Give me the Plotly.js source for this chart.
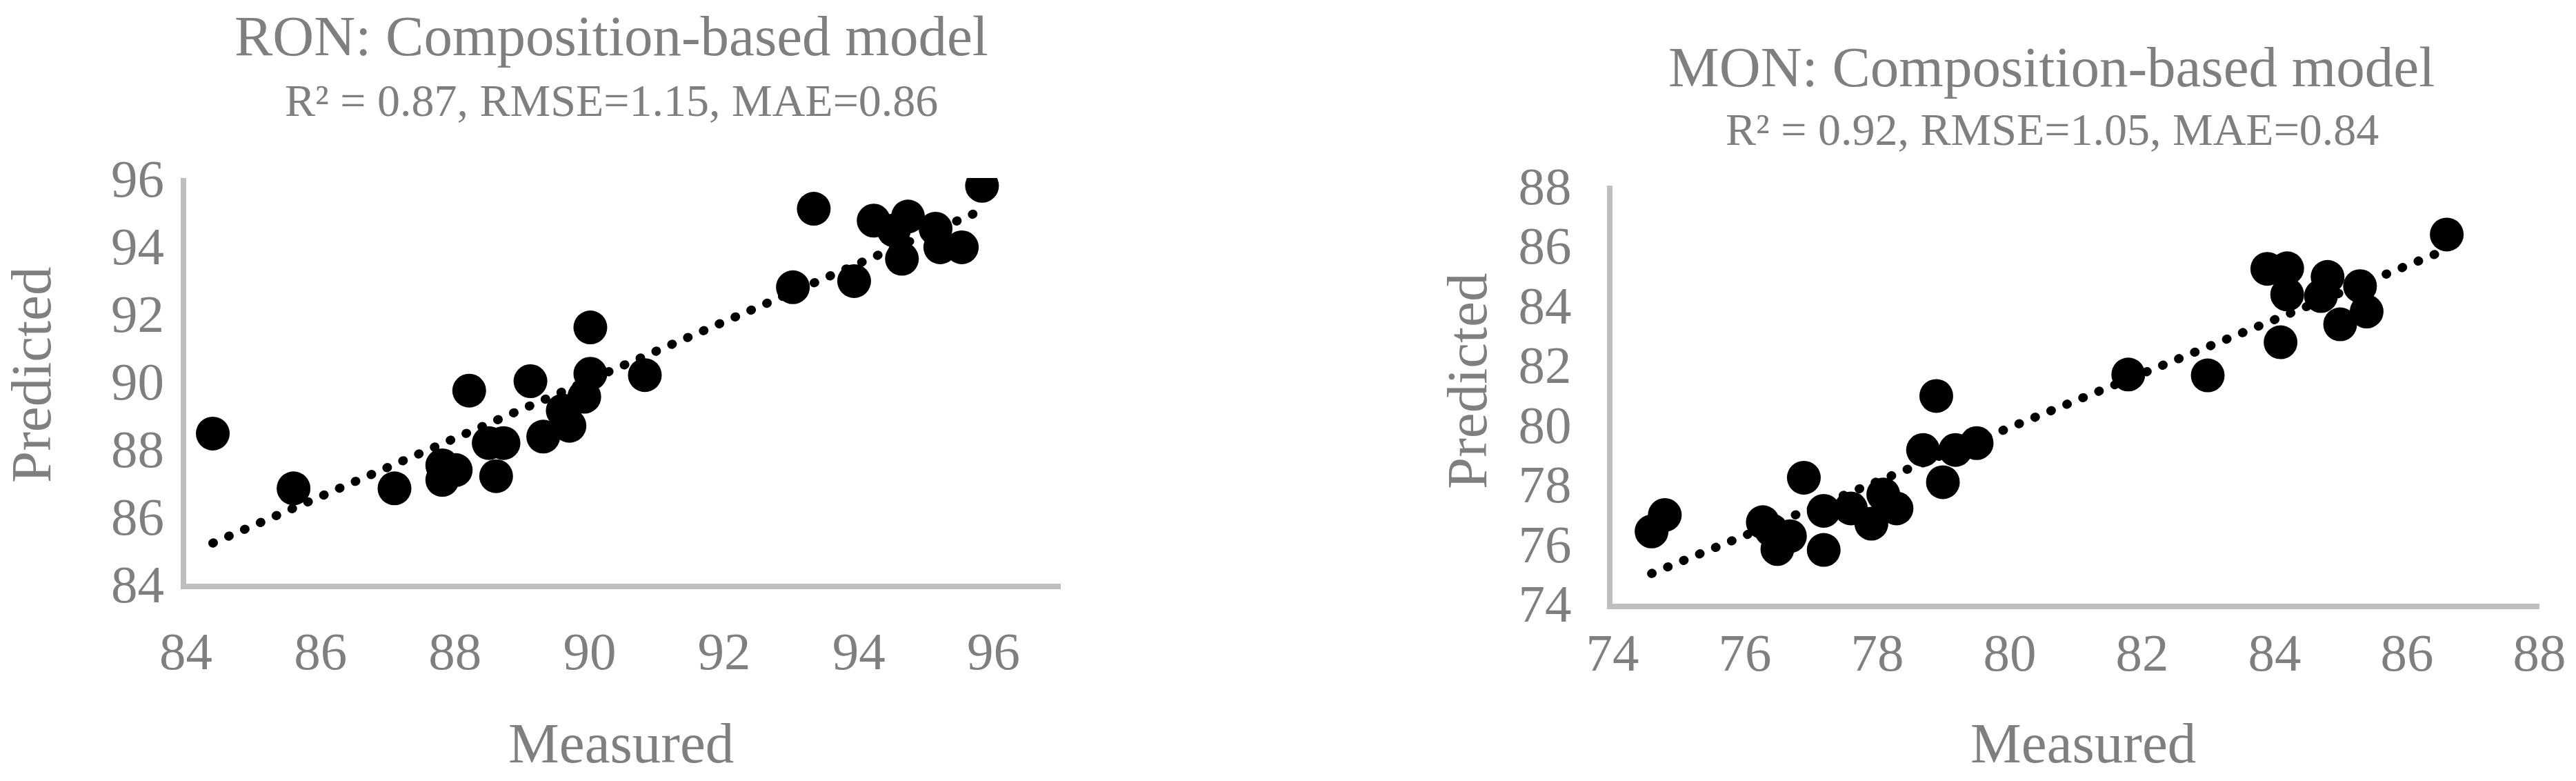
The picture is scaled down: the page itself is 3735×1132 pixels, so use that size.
<!DOCTYPE html>
<html>
<head>
<meta charset="utf-8">
<script src="https://cdn.plot.ly/plotly-3.0.1.min.js"></script>
<style>
  html, body { margin: 0; padding: 0; background: #fff; }
  #chart { width: 3735px; height: 1132px; }
  /* round dots for the dotted trendlines */
  .scatterlayer .js-line { stroke-linecap: round; }
</style>
</head>
<body>
<div id="chart"></div>
<script>
// RON panel
const ronMeasured = [84.40, 85.60, 87.10, 87.81, 88.01, 87.81, 88.21, 88.50, 88.72, 88.61,
    89.12, 89.31, 89.60, 89.70, 89.92, 90.01, 90.01, 90.82, 93.33, 93.02,
    93.93, 94.22, 94.73, 94.64, 94.52, 95.14, 95.21, 95.53, 95.83];
const ronPredicted = [88.44, 86.82, 86.82, 87.50, 87.36, 87.07, 89.71, 88.16, 88.16, 87.18,
    89.99, 88.35, 89.12, 88.67, 89.53, 90.21, 91.58, 90.17, 95.09, 92.77,
    92.95, 94.74, 94.86, 93.61, 94.45, 94.50, 93.95, 93.95, 95.77];
const ronTrendX = [84.40, 95.83];
const ronTrendY = [85.20, 95.05];

// MON panel
const monMeasured = [74.59, 74.79, 76.27, 76.40, 76.49, 76.68, 76.89, 77.19, 77.19, 77.60,
    77.91, 78.09, 78.29, 78.69, 78.89, 78.99, 79.18, 79.50, 81.79, 82.99,
    84.09, 83.89, 84.19, 84.19, 84.70, 84.80, 84.99, 85.29, 85.39, 86.60];
const monPredicted = [76.41, 76.96, 76.72, 76.45, 75.82, 76.25, 78.21, 77.10, 75.79, 77.18,
    76.67, 77.65, 77.18, 79.14, 80.95, 78.06, 79.14, 79.37, 81.67, 81.64,
    82.75, 85.21, 85.23, 84.35, 84.30, 84.94, 83.35, 84.63, 83.78, 86.36];
const monTrendX = [74.59, 86.60];
const monTrendY = [75.00, 85.86];

const titles = ['RON: Composition-based model', 'MON: Composition-based model'];
const subtitles = ['R² = 0.87, RMSE=1.15, MAE=0.86', 'R² = 0.92, RMSE=1.05, MAE=0.84'];

const FONT = '"Liberation Serif", "Times New Roman", serif';
const GREY = '#7f7f7f';
const W = 3735, H = 1132;

function pts(x, y, xa, ya) {
    return {
        x: x, y: y, xaxis: xa, yaxis: ya,
        type: 'scatter', mode: 'markers',
        marker: { color: '#000', size: 49 },
        hoverinfo: 'skip', showlegend: false
    };
}

function trend(x, y, xa, ya) {
    return {
        x: x, y: y, xaxis: xa, yaxis: ya,
        type: 'scatter', mode: 'lines',
        line: { color: '#000', width: 13, dash: '1px,24px' },
        hoverinfo: 'skip', showlegend: false
    };
}

const data = [
    trend(ronTrendX, ronTrendY, 'x', 'y'),
    pts(ronMeasured, ronPredicted, 'x', 'y'),
    trend(monTrendX, monTrendY, 'x2', 'y2'),
    pts(monMeasured, monPredicted, 'x2', 'y2')
];

function axis(range, domain, anchor, standoff) {
    return {
        range: range, autorange: false, domain: domain, anchor: anchor,
        dtick: 2, tick0: 0, ticks: '',
        showgrid: false, zeroline: false,
        showline: true, linecolor: '#bfbfbf', linewidth: 8,
        ticklabelstandoff: standoff,
        tickfont: { family: FONT, size: 77, color: GREY }
    };
}

// pixel helpers for paper coordinates
const px = v => v / W;
const py = v => 1 - v / H;

function label(text, x, y, size, angle) {
    return {
        text: text, xref: 'paper', yref: 'paper',
        x: px(x), y: py(y), xanchor: 'center', yanchor: 'middle',
        showarrow: false, textangle: angle || 0,
        font: { family: FONT, size: size, color: GREY }
    };
}

const layout = {
    width: W, height: H,
    margin: { l: 0, r: 0, t: 0, b: 0 },
    paper_bgcolor: '#fff', plot_bgcolor: '#fff',
    xaxis: axis([84, 97], [px(269.5), px(1538)], 'y', 24),
    yaxis: axis([84, 96], [py(846), py(258)], 'x', 8),
    xaxis2: axis([74, 88], [px(2338), px(3682)], 'y2', -3),
    yaxis2: axis([74, 88], [py(874.5), py(269)], 'x2', 36),
    annotations: [
        label(titles[0], 886, 52, 83),
        label(subtitles[0], 886, 145, 66),
        label('Measured', 900, 1077, 83),
        label('Predicted', 45, 544, 83, -90),
        label(titles[1], 2974, 97, 83),
        label(subtitles[1], 2975, 188, 66),
        label('Measured', 3020, 1077, 83),
        label('Predicted', 2127, 553, 83, -90)
    ]
};

Plotly.newPlot('chart', data, layout, { staticPlot: true });
</script>
</body>
</html>
